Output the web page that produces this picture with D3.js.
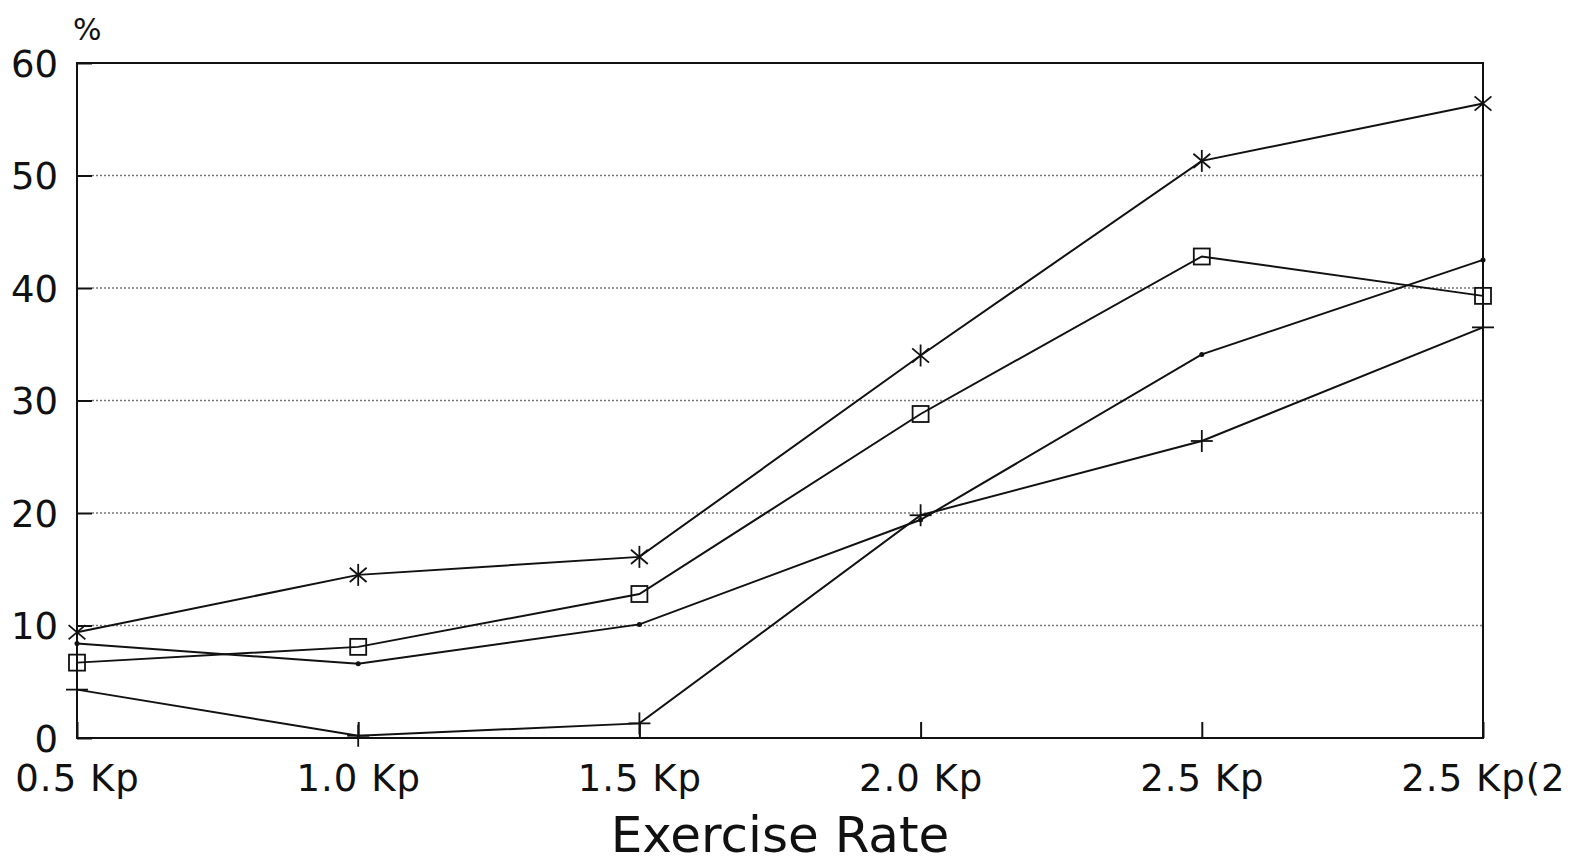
<!DOCTYPE html>
<html>
<head>
<meta charset="utf-8">
<script src="https://cdn.jsdelivr.net/npm/d3@7"></script>
<style>
  body { margin: 0; background: #fff; }
  text { font-family: "DejaVu Sans", sans-serif; fill: #111; }
</style>
</head>
<body>
<div id="chart"></div>
<script>
// data
var categories = ["0.5 Kp", "1.0 Kp", "1.5 Kp", "2.0 Kp", "2.5 Kp", "2.5 Kp(2"];
var yTicks = [0, 10, 20, 30, 40, 50, 60];
var starValues = [9.4, 14.5, 16.1, 34.0, 51.3, 56.4];
var squareValues = [6.7, 8.1, 12.8, 28.8, 42.8, 39.3];
var dotValues = [8.4, 6.6, 10.1, 19.4, 34.1, 42.5];
var plusValues = [4.3, 0.2, 1.3, 19.8, 26.4, 36.5];

var series = [
    { name: "star", values: starValues },
    { name: "square", values: squareValues },
    { name: "dot", values: dotValues },
    { name: "plus", values: plusValues }
];

var W = 1571, H = 865;
var margin = { top: 63, right: 88, bottom: 127, left: 77 };
var width = W - margin.left - margin.right,
    height = H - margin.top - margin.bottom;

var svg = d3.select("#chart").append("svg")
    .attr("width", W)
    .attr("height", H);

var g = svg.append("g")
    .attr("transform", "translate(" + margin.left + "," + margin.top + ")");

var x = d3.scalePoint()
    .domain(d3.range(categories.length))
    .range([0, width]);

var y = d3.scaleLinear()
    .domain([0, 60])
    .range([height, 0]);

// dotted grid lines
g.selectAll(".grid")
    .data(yTicks.filter(function (d) { return d > 0 && d < 60; }))
    .enter().append("line")
    .attr("class", "grid")
    .attr("x1", 15)
    .attr("x2", width)
    .attr("y1", function (d) { return y(d); })
    .attr("y2", function (d) { return y(d); })
    .attr("stroke", "#777")
    .attr("stroke-width", 1.5)
    .attr("stroke-dasharray", "2,2");

// frame
g.append("rect")
    .attr("width", width)
    .attr("height", height)
    .attr("fill", "none")
    .attr("stroke", "#111")
    .attr("stroke-width", 2);

var xAxis = g.append("g")
    .attr("transform", "translate(0," + height + ")")
    .call(d3.axisBottom(x)
        .tickSizeInner(-16)
        .tickSizeOuter(0)
        .tickPadding(27)
        .tickFormat(function (i) { return categories[i]; }));

var yAxis = g.append("g")
    .call(d3.axisLeft(y)
        .tickValues(yTicks)
        .tickSizeInner(-15)
        .tickSizeOuter(0)
        .tickPadding(19));

[xAxis, yAxis].forEach(function (a) {
    a.select(".domain").remove();
    a.selectAll(".tick line").attr("stroke", "#111").attr("stroke-width", 2);
    a.selectAll(".tick text")
        .style("font-family", "DejaVu Sans, sans-serif")
        .style("font-size", "37px")
        .attr("fill", "#111");
});
xAxis.selectAll(".tick text").style("letter-spacing", "1px");
yAxis.selectAll(".tick text").attr("dy", "0.36em");

// lines
var line = d3.line()
    .x(function (d, i) { return x(i); })
    .y(function (d) { return y(d); });

g.selectAll(".series")
    .data(series)
    .enter().append("path")
    .attr("class", "series")
    .attr("d", function (d) { return line(d.values); })
    .attr("fill", "none")
    .attr("stroke", "#111")
    .attr("stroke-width", 2);

// markers
series.forEach(function (s) {
    var m = g.selectAll(".m-" + s.name)
        .data(s.values)
        .enter().append("g")
        .attr("class", "m-" + s.name)
        .attr("transform", function (d, i) {
            return "translate(" + x(i) + "," + y(d) + ")";
        });

    if (s.name === "star") {
        var r = 11;
        [90, 40, -40].forEach(function (a) {
            var rad = a * Math.PI / 180;
            m.append("line")
                .attr("x1", -r * Math.cos(rad)).attr("y1", -r * Math.sin(rad))
                .attr("x2", r * Math.cos(rad)).attr("y2", r * Math.sin(rad))
                .attr("stroke", "#111").attr("stroke-width", 1.8);
        });
    } else if (s.name === "square") {
        m.append("rect")
            .attr("x", -8).attr("y", -8)
            .attr("width", 16).attr("height", 16)
            .attr("fill", "none")
            .attr("stroke", "#111").attr("stroke-width", 1.8);
    } else if (s.name === "dot") {
        m.append("circle")
            .attr("r", 2.5)
            .attr("fill", "#111");
    } else {
        m.append("line")
            .attr("x1", -11).attr("x2", 11)
            .attr("stroke", "#111").attr("stroke-width", 1.8);
        m.append("line")
            .attr("y1", -11).attr("y2", 11)
            .attr("stroke", "#111").attr("stroke-width", 1.8);
    }
});

// axis labels
svg.append("text")
    .attr("x", 73)
    .attr("y", 40)
    .style("font-size", "30px")
    .text("%");

svg.append("text")
    .attr("x", margin.left + width / 2)
    .attr("y", 852)
    .attr("text-anchor", "middle")
    .style("font-size", "50px")
    .text("Exercise Rate");
</script>
</body>
</html>
